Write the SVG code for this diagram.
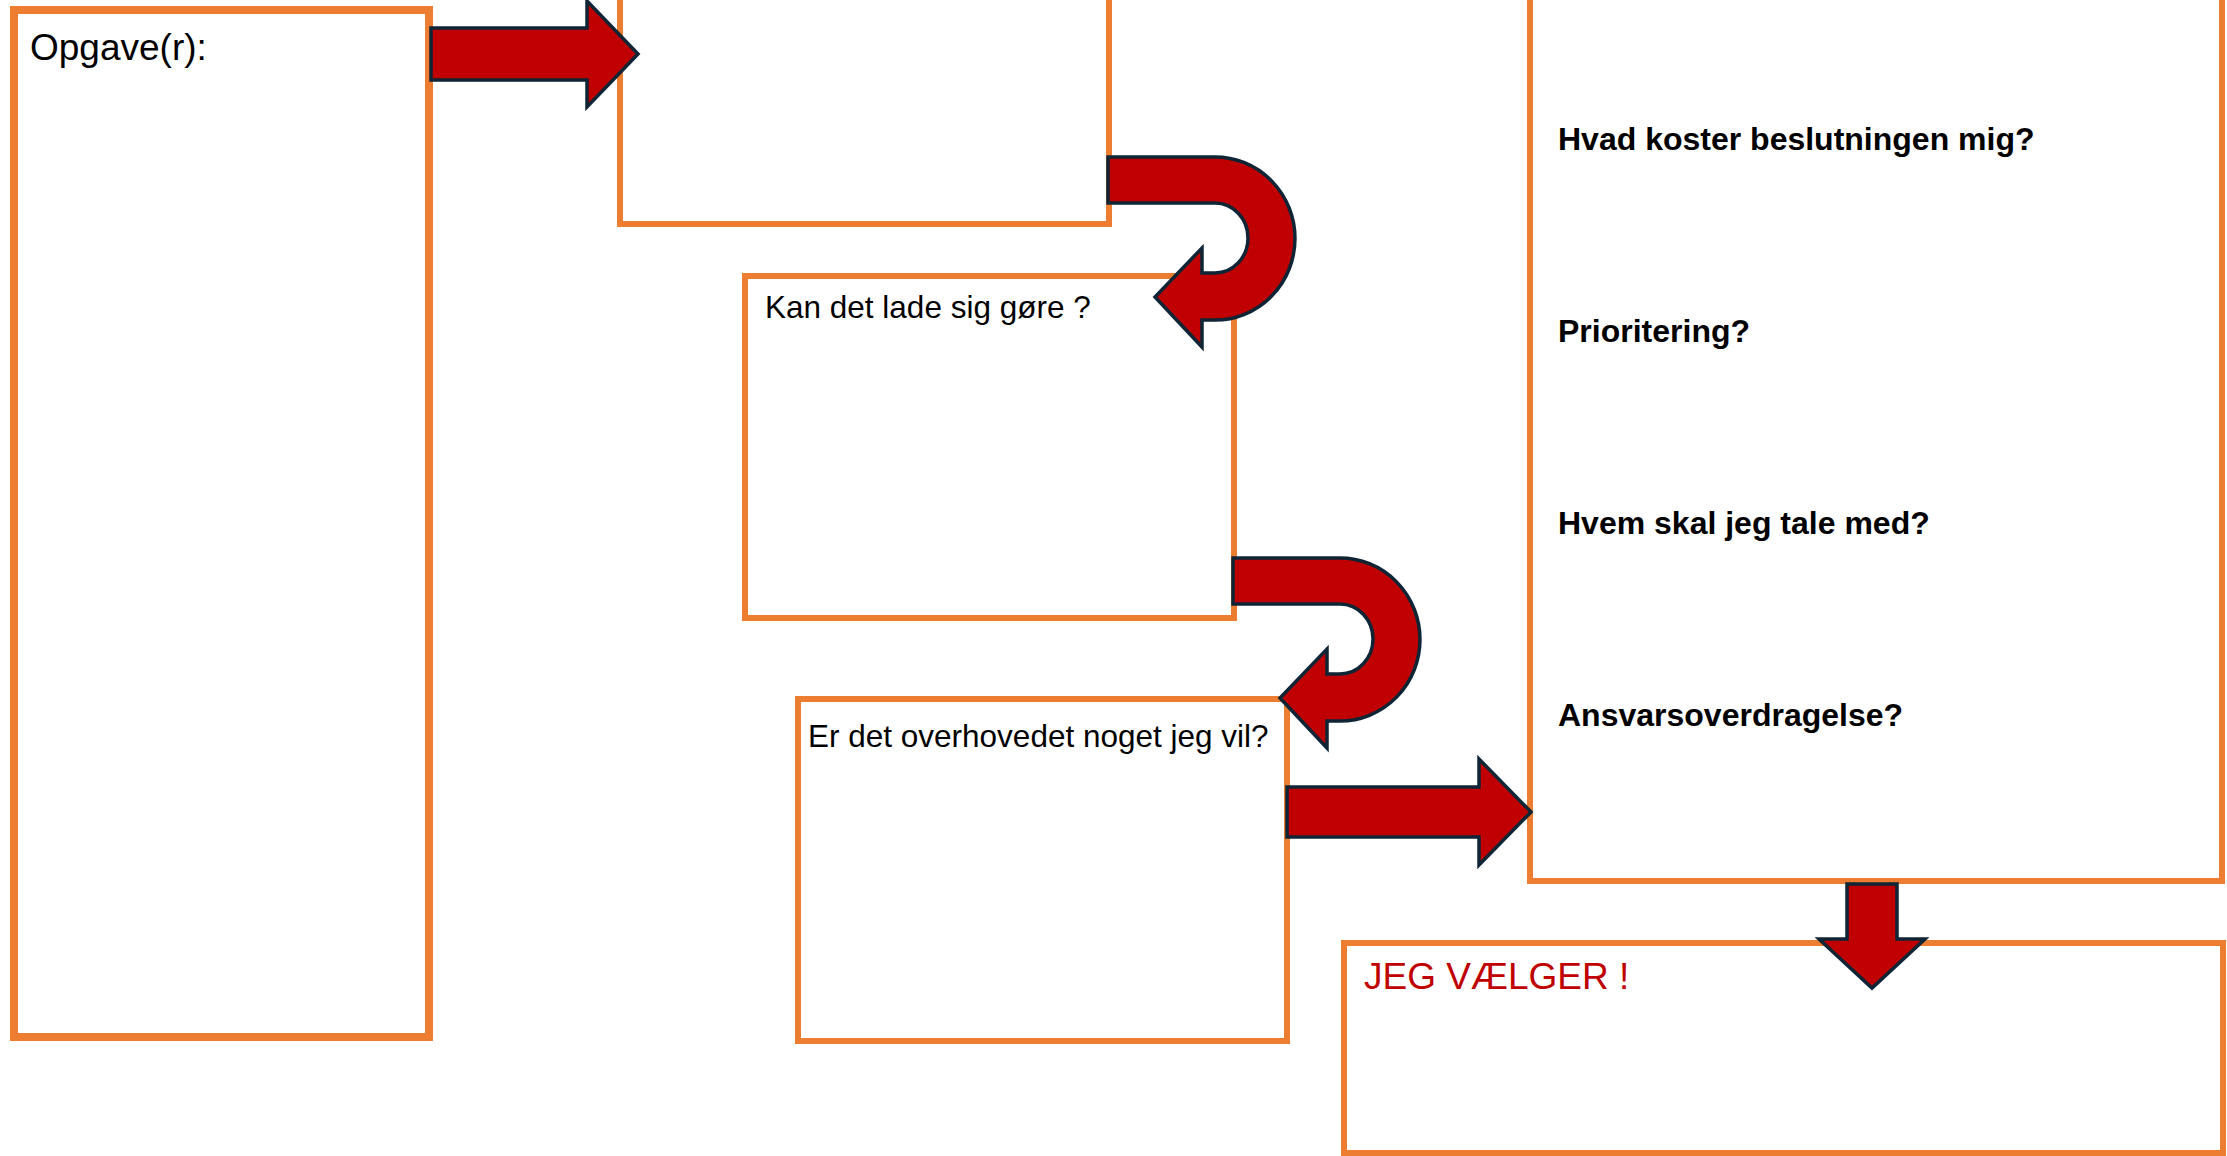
<svg xmlns="http://www.w3.org/2000/svg" width="2227" height="1156" viewBox="0 0 2227 1156">
<style>
.box{fill:#FFFFFF;stroke:#ED7D31;stroke-width:6}
.thick{stroke-width:8}
.arrow{fill:#C00000;stroke:#0F2536;stroke-width:3.5;stroke-linejoin:miter}
.t{font-family:"Liberation Sans",Arial,sans-serif;fill:#000000}
.b{font-family:"Liberation Sans",Arial,sans-serif;font-weight:bold;font-size:32px;fill:#000000}
</style>
<rect width="2227" height="1156" fill="#FFFFFF"/>
<g id="node-opgave">
<rect class="box thick" x="14" y="10" width="415" height="1027"/>
<text class="t" x="30" y="60" font-size="37">Opgave(r):</text>
</g>
<g id="node-top">
<rect class="box" x="620" y="-10" width="489" height="234"/>
</g>
<g id="node-kan">
<rect class="box" x="745" y="276" width="489" height="342"/>
<text class="t" x="765" y="318" font-size="31.5">Kan det lade sig gøre ?</text>
</g>
<g id="node-vil">
<rect class="box" x="798" y="699" width="489" height="342"/>
<text class="t" x="808" y="747" font-size="31.5">Er det overhovedet noget jeg vil?</text>
</g>
<g id="node-questions">
<rect class="box" x="1530" y="-10" width="692" height="891"/>
<text class="b" x="1558" y="150">Hvad koster beslutningen mig?</text>
<text class="b" x="1558" y="342">Prioritering?</text>
<text class="b" x="1558" y="534">Hvem skal jeg tale med?</text>
<text class="b" x="1558" y="726">Ansvarsoverdragelse?</text>
</g>
<g id="node-vaelger">
<rect class="box" x="1344" y="943" width="879" height="210"/>
<text class="t" x="1364" y="989" font-size="37" style="fill:#C00000">JEG VÆLGER !</text>
</g>
<g id="connectors">
<polygon class="arrow" points="431,28 587,28 587,1 638,54 587,107 587,80 431,80"/>
<path id="uturn1" class="arrow" d="M1108,157 L1215,157 A80,81.5 0 0 1 1215,320 L1202,320 L1202,347 L1155,297 L1202,248 L1202,273 L1215,273 A33,35 0 0 0 1215,203 L1108,203 Z"/>
<path id="uturn2" class="arrow" transform="translate(125,401)" d="M1108,157 L1215,157 A80,81.5 0 0 1 1215,320 L1202,320 L1202,347 L1155,297 L1202,248 L1202,273 L1215,273 A33,35 0 0 0 1215,203 L1108,203 Z"/>
<polygon class="arrow" points="1287,787 1479,787 1479,759 1531,812 1479,865 1479,837 1287,837"/>
<polygon class="arrow" points="1847,884 1897,884 1897,939 1925,939 1872,988 1819,939 1847,939"/>
</g>
</svg>
